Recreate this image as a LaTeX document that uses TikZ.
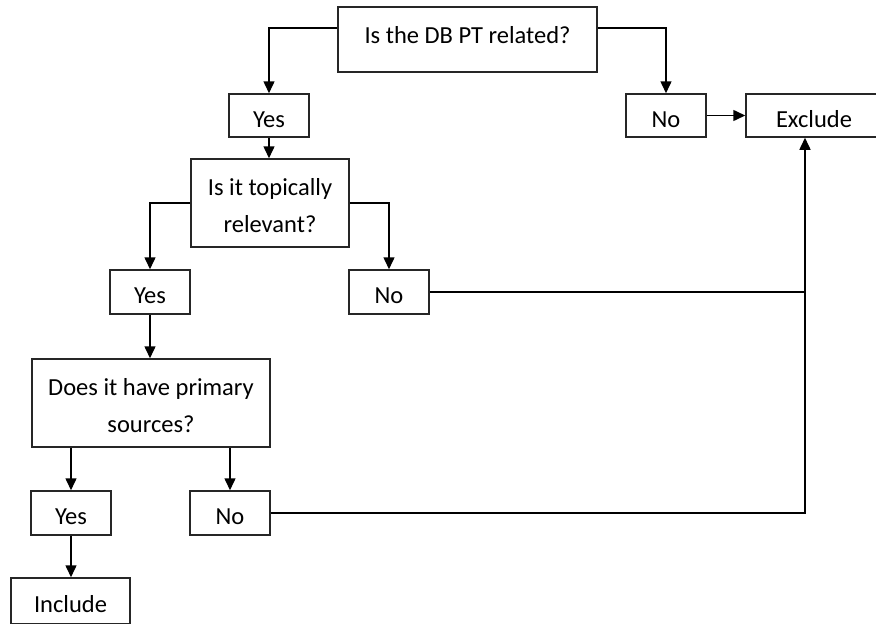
\documentclass[tikz,border=0pt]{standalone}
\usepackage{fontspec}
\setmainfont{Carlito}
\usetikzlibrary{arrows.meta}
% box labels sit a little below the middle of their frames
\newcommand\boxtext[2][-4.5pt]{\raisebox{#1}[\height][\depth]{\begin{tabular}{@{}c@{}}#2\end{tabular}}}
\begin{document}
\begin{tikzpicture}[x=1pt,y=-1pt,
  box/.style={draw=black!85, line width=1.5pt, inner sep=0pt,
    font=\fontsize{24.5}{37}\selectfont},
  arr/.style={line width=1.5pt, -{Triangle[length=12pt,width=11pt]}},
  ln/.style={line width=1.5pt}]
\useasboundingbox (0,0) rectangle (876,624);
% decision boxes
\node[box, minimum width=259pt, minimum height=65pt] (q1) at (467.5,39.5) {\boxtext[3pt]{Is the DB PT related?}};
\node[box, minimum width=158pt, minimum height=88pt] (q2) at (270,203) {\boxtext[-4pt]{Is it topically\\relevant?}};
\node[box, minimum width=238pt, minimum height=88pt] (q3) at (151,403) {\boxtext[-4pt]{Does it have primary\\sources?}};
% answer boxes
\node[box, minimum width=80pt, minimum height=43pt] (yes1) at (269,115.5) {\boxtext{Yes}};
\node[box, minimum width=80pt, minimum height=43pt] (no1) at (666,115.5) {\boxtext{No}};
\node[box, minimum width=136pt, minimum height=43pt] (excl) at (814,115.5) {\boxtext{Exclude}};
\node[box, minimum width=80pt, minimum height=44pt] (yes2) at (150,292) {\boxtext{Yes}};
\node[box, minimum width=80pt, minimum height=44pt] (no2) at (389,292) {\boxtext{No}};
\node[box, minimum width=80pt, minimum height=44pt] (yes3) at (71,513) {\boxtext{Yes}};
\node[box, minimum width=80pt, minimum height=44pt] (no3) at (230,513) {\boxtext{No}};
\node[box, minimum width=119pt, minimum height=46pt] (incl) at (70.5,601) {\boxtext{Include}};
% junctions on the line that leads back to Exclude
\coordinate (j1) at (805,292);
\coordinate (j2) at (805,513);
% connectors
\draw[arr] (q1.west |- 0,28) -| (yes1.north);
\draw[arr] (q1.east |- 0,28) -| (no1.north);
\draw[arr] (no1.east) -- (excl.west);
\draw[arr] (yes1.south) -- (yes1.south |- q2.north);
\draw[arr] (q2.west) -| (yes2.north);
\draw[arr] (q2.east) -| (no2.north);
\draw[arr] (yes2.south) -- (yes2.south |- q3.north);
\draw[arr] (yes3.north |- q3.south) -- (yes3.north);
\draw[arr] (no3.north |- q3.south) -- (no3.north);
\draw[arr] (yes3.south) -- (yes3.south |- incl.north);
\draw[ln] (no2.east) -- (j1);
\draw[arr] (no3.east) -- (j2) -- (j2 |- excl.south);
\end{tikzpicture}
\end{document}
